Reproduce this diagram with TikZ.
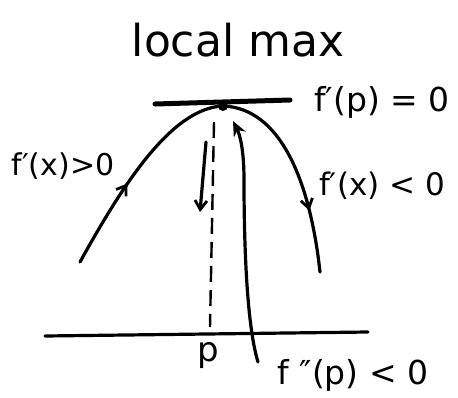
\documentclass[tikz,border=0pt]{standalone}
\usepackage{fontspec}
\setmainfont{DejaVu Sans}
\usetikzlibrary{arrows.meta,decorations.markings}
\begin{document}
\begin{tikzpicture}[x=1pt,y=-1pt,
  ink/.style={line width=3.2pt,line cap=round,line join=round},
  lbl/.style={inner sep=0pt,font=\fontsize{#1}{#1}\selectfont},
  barb/.style={-{Straight Barb[length=9pt,width=12pt,line width=2.8pt]}},
  midarrow/.style={postaction={decorate},decoration={markings,
    mark=at position #1 with {\arrow{Straight Barb[length=9pt,width=12pt,line width=2.8pt]}}}}]
\useasboundingbox (0,0) rectangle (458,397);
% title
\node[inner sep=0pt,font=\fontsize{44}{48}\selectfont] (title) at (238,40) {local max};
% key points
\coordinate (L) at (80,262);
\coordinate (P) at (223,106);
\coordinate (R) at (320,272);
\coordinate (T1) at (155,104);
\coordinate (T2) at (290,100);
\coordinate (A1) at (45,336);
\coordinate (A2) at (368,332);
\coordinate (Pt) at (214,122);
\coordinate (Pb) at (210,327);
\coordinate (D1) at (206,142);
\coordinate (D2) at (200,212);
\coordinate (U1) at (258,362);
\coordinate (U2) at (233,121);
% tangent line
\draw[line width=5pt,line cap=round] (T1) -- (T2);
\fill (P) circle (5pt);
% curve
\draw[ink,midarrow=0.42] (L) .. controls (120,190) and (170,108) .. (P);
\draw[ink,midarrow=0.7] (P) .. controls (280,108) and (310,180) .. (R);
% axis
\draw[ink] (A1) -- (A2);
% dashed vertical
\draw[line width=2.4pt,dash pattern=on 16pt off 8pt] (Pt) -- (Pb);
% down arrow
\draw[ink,barb] (D1) -- (D2);
% long upward arrow
\draw[ink,-{Stealth[length=15pt,width=13pt]}] (U1) .. controls (245,320) and (244,220) .. (244,180) .. controls (244,150) and (240,135) .. (U2);
% labels
\node[lbl=33] (fp) at (382,102) {f′(p) = 0};
\node[lbl=30] (fpos) at (63,166) {f′(x)>0};
\node[lbl=31] (fneg) at (382,186) {f′(x) < 0};
\node[lbl=34] (p) at (208,356) {p};
\node[lbl=33] (fpp) at (353,375) {f ″(p) < 0};
\end{tikzpicture}
\end{document}
